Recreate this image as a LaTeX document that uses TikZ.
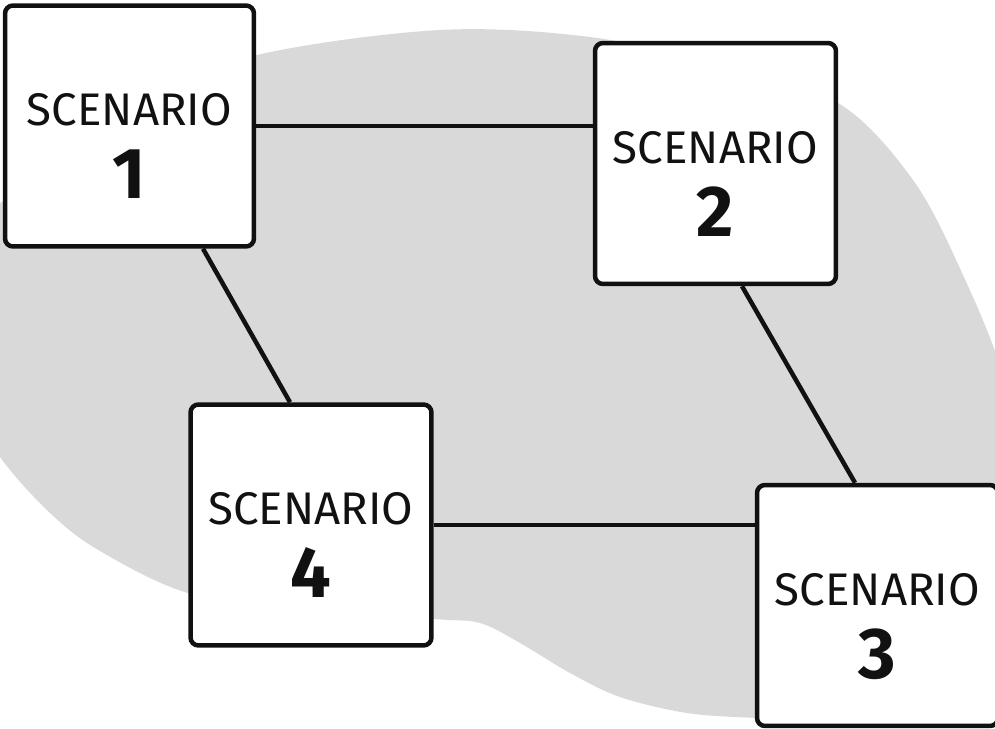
\documentclass[tikz,border=0pt]{standalone}
\usepackage{fontspec}
\setmainfont{Fira Sans}
\usetikzlibrary{positioning}
\definecolor{blobgray}{RGB}{217,217,217}
\definecolor{inkblack}{RGB}{17,17,17}

\begin{document}
\begin{tikzpicture}[x=0.02cm, y=-0.02cm,
    scenbox/.style={draw=inkblack, line width=0.09cm, fill=white, rounded corners=0.16cm,
                    minimum height=4.82cm, inner sep=0pt},
    scentitle/.style={anchor=base, inner sep=0pt, text=inkblack, font=\fontsize{26}{30}\selectfont},
    scennum/.style={anchor=base, inner sep=0pt, text=inkblack, font=\fontsize{41}{48}\selectfont\bfseries},
    link/.style={draw=inkblack, line width=0.09cm}
]
    \useasboundingbox (0,0) rectangle (995,729);
    \clip (0,0) rectangle (995,729);

    % background blob
    \fill[blobgray] plot[smooth cycle, tension=0.55] coordinates {
        (-40,330) (-15,225) (10,195) (120,105) (257,55) (440,30) (590,37) (720,65)
        (838,103) (913,180) (963,275) (1005,380) (1040,520) (1030,660) (880,722)
        (757,718) (687,713) (620,697) (570,673) (520,643) (480,623) (434,619)
        (300,608) (188,593) (100,551) (50,513) (0,457) (-30,400)};

    \foreach \i/\x/\y/\w in {1/129.5/126/4.98cm, 2/715.5/163.5/4.82cm, 3/877.5/605.5/4.82cm, 4/311/525/4.82cm}{
        \node[scenbox, minimum width=\w] (s\i) at (\x,\y) {};
        \node[scentitle] (t\i) at (s\i.center) {SCENARIO};
        \node[scennum] (n\i) at ([yshift=-1.46cm]s\i.center) {\i};
    }

    \draw[link] (s1.east) -- (s1.east -| s2.west);
    \draw[link] (s4.east) -- (s4.east -| s3.west);
    \draw[link] ([xshift=1.47cm]s1.south) -- ([xshift=-0.42cm]s4.north);
    \draw[link] ([xshift=0.53cm]s2.south) -- ([xshift=-0.45cm]s3.north);
\end{tikzpicture}
\end{document}
